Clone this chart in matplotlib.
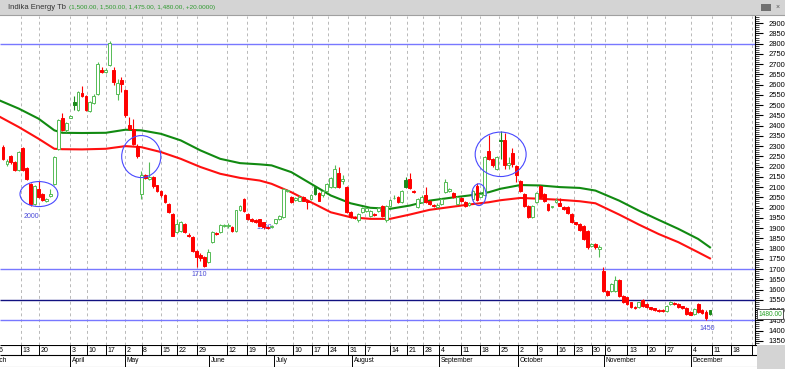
import numpy as np
import matplotlib.pyplot as plt
from matplotlib.patches import Rectangle, Ellipse

plt.rcParams['font.family'] = ['Liberation Sans', 'DejaVu Sans']

W, H = 785, 369

# daily bars, 6 March .. 8 December, one per trading day
opens = [2295, 2215, 2250, 2222, 2185, 2290, 2194, 2116, 2018, 2091,
         2067, 2031, 2056, 2113, 2287, 2439, 2377, 2439, 2515, 2475,
         2560, 2543, 2471, 2510, 2556, 2673, 2662, 2695, 2673, 2556,
         2625, 2572, 2401, 2385, 2300, 2067, 2157, 2140, 2148, 2108,
         2083, 2059, 2018, 1969, 1880, 1884, 1920, 1866, 1855, 1790,
         1770, 1757, 1733, 1831, 1878, 1880, 1910, 1910, 1905, 1884,
         1986, 2043, 1969, 1942, 1940, 1942, 1928, 1906, 1905, 1925,
         1945, 1953, 2080, 2051, 2038, 2034, 2051, 2032, 2042, 2100,
         2070, 2059, 2080, 2100, 2100, 2168, 2132, 2100, 1977, 1955,
         1937, 1977, 1985, 1961, 1970, 1982, 2010, 1937, 2010, 2045,
         2051, 2026, 2135, 2140, 2083, 2005, 2026, 2059, 2034, 2012,
         2005, 2018, 2075, 2083, 2070, 2018, 2048, 2026, 2015, 2043,
         2103, 2054, 2059, 2276, 2238, 2189, 2331, 2331, 2206, 2266,
         2201, 2132, 2067, 2010, 1953, 2026, 2103, 2067, 2018, 2002,
         2026, 2021, 2005, 2005, 1969, 1928, 1920, 1912, 1888, 1814,
         1820, 1798, 1692, 1594, 1594, 1594, 1646, 1570, 1562, 1537,
         1516, 1513, 1548, 1529, 1513, 1508, 1502, 1500, 1495, 1529,
         1533, 1529, 1518, 1510, 1490, 1480, 1529, 1500, 1490, 1500]
highs = [2305, 2238, 2255, 2228, 2278, 2295, 2200, 2120, 2108, 2130,
         2070, 2046, 2091, 2250, 2432, 2462, 2418, 2450, 2547, 2570,
         2592, 2548, 2520, 2556, 2710, 2687, 2680, 2812, 2687, 2630,
         2638, 2580, 2440, 2434, 2310, 2181, 2165, 2222, 2155, 2112,
         2088, 2064, 2022, 1973, 1945, 1935, 1925, 1875, 1860, 1795,
         1780, 1762, 1800, 1885, 1882, 1922, 1920, 1925, 1910, 1990,
         2015, 2048, 1973, 1948, 1945, 1946, 1932, 1912, 1916, 1946,
         1966, 2096, 2090, 2056, 2052, 2060, 2056, 2036, 2064, 2105,
         2075, 2088, 2120, 2150, 2210, 2200, 2157, 2105, 1982, 1960,
         1975, 2003, 2003, 1990, 1975, 2003, 2015, 2015, 2043, 2060,
         2056, 2088, 2148, 2170, 2088, 2047, 2060, 2100, 2038, 2016,
         2020, 2047, 2140, 2095, 2075, 2056, 2052, 2030, 2025, 2088,
         2120, 2072, 2250, 2352, 2243, 2250, 2373, 2364, 2246, 2290,
         2206, 2137, 2072, 2015, 2015, 2075, 2110, 2072, 2022, 2010,
         2048, 2048, 2008, 2010, 1974, 1932, 1925, 1916, 1892, 1828,
         1825, 1815, 1708, 1598, 1632, 1668, 1650, 1574, 1566, 1541,
         1520, 1541, 1552, 1533, 1517, 1512, 1506, 1505, 1525, 1545,
         1537, 1533, 1522, 1514, 1494, 1510, 1533, 1505, 1500, 1500]
lows = [2230, 2205, 2215, 2180, 2180, 2180, 2135, 2010, 2015, 2045,
        2030, 2028, 2050, 2110, 2280, 2372, 2370, 2435, 2475, 2470,
        2540, 2470, 2465, 2505, 2550, 2657, 2655, 2690, 2597, 2525,
        2565, 2442, 2380, 2305, 2240, 2043, 2140, 2135, 2098, 2078,
        2054, 2020, 1972, 1860, 1876, 1880, 1876, 1855, 1785, 1710,
        1740, 1712, 1728, 1825, 1868, 1876, 1905, 1900, 1880, 1880,
        1982, 1978, 1940, 1928, 1925, 1908, 1895, 1895, 1900, 1920,
        1940, 1950, 2075, 2022, 2034, 2030, 2030, 1994, 2038, 2060,
        2030, 2054, 2075, 2095, 2095, 2096, 2113, 1972, 1948, 1945,
        1932, 1972, 1980, 1956, 1960, 1978, 1956, 1932, 2005, 2040,
        2022, 2022, 2095, 2090, 2070, 2000, 2022, 2022, 2014, 2004,
        2000, 2014, 2070, 2078, 2046, 2014, 2025, 2005, 2010, 2038,
        2034, 2050, 2055, 2232, 2200, 2185, 2238, 2190, 2189, 2200,
        2124, 2078, 2005, 1948, 1948, 2022, 2046, 2026, 1982, 1998,
        2022, 2006, 1990, 1968, 1924, 1916, 1886, 1843, 1800, 1810,
        1800, 1757, 1590, 1570, 1590, 1590, 1566, 1533, 1526, 1509,
        1505, 1509, 1517, 1509, 1500, 1496, 1492, 1490, 1490, 1525,
        1523, 1510, 1506, 1476, 1474, 1476, 1484, 1480, 1450, 1475]
closes = [2238, 2228, 2222, 2185, 2271, 2185, 2140, 2018, 2103, 2051,
          2035, 2043, 2067, 2246, 2426, 2377, 2413, 2445, 2499, 2564,
          2545, 2475, 2515, 2543, 2703, 2662, 2673, 2804, 2613, 2608,
          2605, 2450, 2385, 2312, 2250, 2157, 2145, 2148, 2103, 2083,
          2059, 2026, 1977, 1863, 1920, 1928, 1880, 1860, 1790, 1757,
          1752, 1717, 1782, 1880, 1872, 1917, 1914, 1913, 1884, 1986,
          2010, 1982, 1945, 1933, 1928, 1912, 1904, 1898, 1912, 1942,
          1961, 2091, 2085, 2026, 2047, 2054, 2034, 2026, 2059, 2064,
          2034, 2083, 2116, 2145, 2189, 2100, 2140, 1977, 1953, 1950,
          1969, 1998, 1998, 1985, 1965, 1998, 1961, 2010, 2038, 2048,
          2026, 2083, 2100, 2095, 2075, 2042, 2054, 2026, 2018, 2008,
          2015, 2042, 2124, 2090, 2051, 2051, 2030, 2010, 2020, 2083,
          2038, 2067, 2246, 2238, 2206, 2246, 2325, 2206, 2216, 2214,
          2157, 2083, 2010, 1953, 2010, 2070, 2051, 2031, 1986, 2006,
          2038, 2010, 1994, 1972, 1928, 1920, 1891, 1847, 1806, 1822,
          1806, 1810, 1594, 1575, 1627, 1646, 1570, 1537, 1530, 1513,
          1509, 1537, 1521, 1513, 1505, 1500, 1496, 1495, 1521, 1537,
          1527, 1515, 1510, 1480, 1478, 1505, 1488, 1485, 1460, 1480]

ma_pos = [-1, 4, 9, 13, 15, 20, 26, 31, 35, 40, 45, 50, 55, 60, 65, 68, 73, 78, 83, 88,
          93, 98, 103, 108, 113, 118, 123, 126, 131, 136, 141, 146, 150, 156, 161, 166,
          171, 176, 179]
ma_green = [2524, 2483, 2434, 2377, 2365, 2364, 2365, 2380, 2377, 2360, 2328, 2279, 2238,
            2217, 2211, 2206, 2173, 2116, 2059, 2021, 1999, 1994, 2010, 2034, 2047, 2059,
            2075, 2092, 2110, 2108, 2100, 2096, 2083, 2034, 1985, 1940, 1896, 1847, 1806]
ma_red = [2445, 2393, 2336, 2287, 2285, 2284, 2287, 2300, 2295, 2271, 2238, 2198, 2165,
          2145, 2132, 2116, 2075, 2026, 1977, 1953, 1945, 1945, 1966, 1989, 2002, 2015,
          2026, 2036, 2047, 2043, 2038, 2031, 2021, 1966, 1917, 1871, 1831, 1782, 1752]

blue_levels = [2800, 1700, 1450]
navy_level = 1550

# week starts (bar boundary) and month starts on the date strip
day_lbl = ['6', '13', '20', '3', '10', '17', '2', '8', '15', '22', '29', '12', '19', '26',
           '10', '17', '24', '31', '7', '14', '21', '28', '4', '11', '18', '25', '2', '9',
           '16', '23', '30', '6', '13', '20', '27', '4', '11', '18', '']
day_pos = [-1.5, 4.5, 9.2, 17.0, 21.3, 26.1, 30.9, 35.1, 39.9, 44.0, 49.0, 56.6, 61.7, 66.5,
           73.5, 78.3, 82.4, 87.4, 91.7, 98.0, 102.2, 106.3, 110.4, 115.9, 120.8, 125.6,
           130.3, 135.1, 140.2, 144.6, 149.0, 152.4, 158.1, 163.0, 167.6, 174.2, 179.4,
           184.2, 189.6]
month_lbl = ['March', 'April', 'May', 'June', 'July', 'August', 'September', 'October',
             'November', 'December']
month_pos = [-20, 17.0, 30.9, 52.2, 68.7, 88.4, 110.4, 130.3, 152.2, 174.2]

notes = [('2000', 7.2, 1956), ('1710', 49.6, 1671), ('1900', 66.1, 1904), ('1450', 178.2, 1412)]
rings = [(9.1, 2066, 9.6, 122), (35.0, 2249, 9.9, 205), (120.5, 2063, 3.6, 106),
         (126.0, 2260, 12.9, 217)]

X0, X1 = -0.76, 190.4
Y0, Y1 = 1329.3, 2935.1


def px_box(x0, y0, x1, y1):
    return [x0 / W, 1 - y1 / H, (x1 - x0) / W, (y1 - y0) / H]


fig = plt.figure(figsize=(W / 100, H / 100), dpi=100)

# title strip
fig.patches.append(Rectangle((0, 1 - 15 / H), 1, 15 / H, transform=fig.transFigure,
                             fc='#d4d4d4', ec='none', zorder=0))
fig.lines.append(plt.Line2D([0, 1], [1 - 15 / H] * 2, transform=fig.transFigure,
                            color='#a0a0a0', lw=0.8))
fig.text(8 / W, 1 - 7.5 / H, 'Indika Energy Tb', fontsize=5.5, color='#333333', va='center')
fig.text(69 / W, 1 - 7.5 / H, '(1,500.00, 1,500.00, 1,475.00, 1,480.00, +20.0000)',
         fontsize=4.6, color='#2f9a2f', va='center')
fig.patches.append(Rectangle((761 / W, 1 - 11 / H), 10 / W, 7 / H, transform=fig.transFigure,
                             fc='#707070', ec='none'))
fig.text(778 / W, 1 - 7.5 / H, '×', fontsize=5, color='#555555', ha='center', va='center')
# grey corner under the price scale
fig.patches.append(Rectangle((757 / W, 0), 28 / W, 24 / H, transform=fig.transFigure,
                             fc='#d4d4d4', ec='none', zorder=0))

ax = fig.add_axes(px_box(0, 16, 755, 345))
ax.set_xlim(X0, X1)
ax.set_ylim(Y0, Y1)

ax.vlines(day_pos, Y0, Y1, colors='#b8b8b8', lw=0.7, linestyles=(0, (3, 3)), zorder=0)
ax.hlines(blue_levels, X0, X1, colors='#7878ff', lw=1, zorder=1)
ax.hlines(navy_level, X0, X1, colors='#101080', lw=1, zorder=1)

ax.plot(ma_pos, ma_green, color='#118a11', lw=1.5, zorder=2)
ax.plot(ma_pos, ma_red, color='#ff1010', lw=1.5, zorder=2)

for i in range(len(closes)):
    o, h, l, c = opens[i], highs[i], lows[i], closes[i]
    prev = closes[i - 1] if i else o
    if c > o:
        col, face = '#55bb55', 'white'
    elif c > prev:
        col, face = '#1a8a1a', '#1a8a1a'
    else:
        col, face = '#ff0000', '#ff0000'
    lo, hi = min(o, c), max(o, c)
    ax.vlines(i, l, lo, color=col, lw=0.8, zorder=3)
    ax.vlines(i, hi, h, color=col, lw=0.8, zorder=3)
    ax.add_patch(Rectangle((i - 0.36, lo), 0.72, max(hi - lo, 4), fc=face, ec=col,
                           lw=0.7, zorder=4))

for cx, cy, w, h in rings:
    ax.add_patch(Ellipse((cx, cy), w, h, fill=False, ec='#4848ff', lw=0.8, zorder=5))
for t, x, y in notes:
    ax.text(x, y, t, fontsize=5, color='#4a4ad8', ha='center', va='center')

ax.yaxis.tick_right()
ax.set_yticks(np.arange(1350, 2901, 50))
ax.set_yticks(np.arange(1330, 2931, 10), minor=True)
ax.tick_params(axis='y', which='major', length=6, width=0.8, labelsize=5.5, pad=4)
ax.tick_params(axis='y', which='minor', length=3, width=0.5)
ax.tick_params(axis='x', bottom=False, labelbottom=False)
for s in ['top', 'left', 'bottom']:
    ax.spines[s].set_visible(False)
ax.spines['right'].set_linewidth(0.8)

fig.text(770 / W, 1 - 314 / H, '1480.00', fontsize=4.8, color='#22a022', ha='center',
         va='center', bbox=dict(boxstyle='square,pad=0.2', fc='white', ec='#333333', lw=0.6))

# date strip
axd = fig.add_axes(px_box(0, 345, 757, 367))
axd.set_xlim(X0, (757 - 3) / 3.95)
axd.set_ylim(22, 0)
axd.axis('off')
axd.hlines([0.3, 9.7], X0, 200, colors='black', lw=0.8)
axd.hlines(21.5, X0, 200, colors='#909090', lw=0.8)
axd.vlines(day_pos, 0.3, 9.7, colors='black', lw=0.7)
axd.vlines(month_pos, 9.7, 21.5, colors='black', lw=0.7)
for t, x in zip(day_lbl, day_pos):
    axd.text(x + 0.4, 5.2, t, fontsize=5, va='center', ha='left', clip_on=True)
for t, x in zip(month_lbl, month_pos):
    axd.text(x + 0.4, 15.6, t, fontsize=4.8, va='center', ha='left', clip_on=True)
axd.text(1.0, 15.6, 'March', fontsize=4.8, va='center', ha='right', clip_on=True)

fig.savefig('out.png', dpi=100)
